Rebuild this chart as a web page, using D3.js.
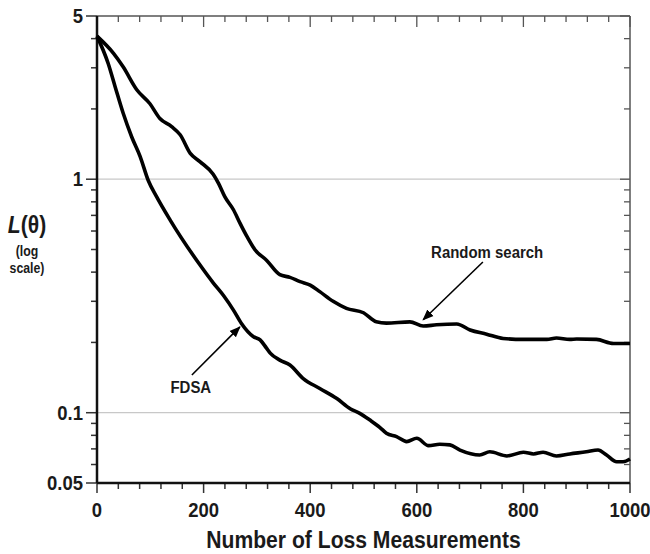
<!DOCTYPE html>
<html>
<head>
<meta charset="utf-8">
<script src="https://cdn.jsdelivr.net/npm/d3@7"></script>
<style>
  body { margin: 0; background: #fff; }
  text { font-family: "Liberation Sans", Arial, sans-serif; font-weight: bold; fill: #1a1a1a; }
</style>
</head>
<body>
<div id="chart"></div>
<script>
// data
var measurements = [0, 31, 49, 75, 99, 118, 140, 156, 175, 193, 218, 228, 240, 256, 268, 281, 296, 318, 343, 362, 381, 400, 418, 443, 468, 500, 524, 543, 587, 612, 637, 675, 700, 731, 762, 800, 844, 862, 887, 900, 937, 969, 1000];
var randomSearch = [4.10, 3.46, 3.03, 2.41, 2.11, 1.82, 1.68, 1.55, 1.29, 1.19, 1.05, 0.96, 0.84, 0.74, 0.65, 0.57, 0.50, 0.45, 0.39, 0.38, 0.364, 0.352, 0.33, 0.30, 0.28, 0.268, 0.245, 0.242, 0.245, 0.235, 0.238, 0.240, 0.226, 0.217, 0.208, 0.206, 0.206, 0.209, 0.206, 0.207, 0.206, 0.198, 0.198];

var fdsaX = [0, 21, 34, 49, 65, 81, 96, 112, 137, 193, 218, 238, 256, 271, 293, 306, 318, 325, 343, 362, 387, 418, 450, 475, 493, 512, 531, 543, 562, 581, 600, 622, 643, 662, 681, 718, 737, 769, 800, 819, 837, 862, 887, 918, 940, 956, 975, 987, 1000];
var fdsa = [4.10, 3.13, 2.49, 1.92, 1.52, 1.25, 0.99, 0.84, 0.67, 0.43, 0.36, 0.316, 0.275, 0.241, 0.212, 0.205, 0.189, 0.180, 0.168, 0.160, 0.140, 0.127, 0.115, 0.104, 0.0994, 0.093, 0.0864, 0.0817, 0.079, 0.0752, 0.0777, 0.0723, 0.0733, 0.0728, 0.0692, 0.0659, 0.068, 0.0653, 0.0677, 0.0666, 0.0677, 0.0653, 0.0666, 0.068, 0.0692, 0.0659, 0.0617, 0.0617, 0.0634];

var xTicks = [0, 200, 400, 600, 800, 1000];
var yTicks = [5, 1, 0.1, 0.05];
var yTickLabels = ["5", "1", "0.1", "0.05"];
var yMinor = [4, 3, 2, 0.9, 0.8, 0.7, 0.6, 0.5, 0.4, 0.3, 0.2, 0.09, 0.08, 0.07, 0.06];
var gridValues = [1, 0.1];

// set the dimensions and margins of the graph
var margin = {top: 16, right: 20, bottom: 71, left: 97},
    width = 650 - margin.left - margin.right,
    height = 554 - margin.top - margin.bottom;

var x = d3.scaleLinear().domain([0, 1000]).range([0, width]);
var y = d3.scaleLog().domain([0.05, 5]).range([height, 0]);

var svg = d3.select("#chart").append("svg")
    .attr("width", 650)
    .attr("height", 554)
  .append("g")
    .attr("transform", "translate(" + margin.left + "," + margin.top + ")");

// condensed bold text: squeeze a normal face horizontally
var squeeze = 0.88;
function label(parent, px, py, size, anchor, str) {
  return parent.append("text")
      .attr("transform", "translate(" + px + "," + py + ") scale(" + squeeze + ",1)")
      .attr("text-anchor", anchor)
      .style("font-size", size + "px")
      .text(str);
}

// grid lines
svg.selectAll(".grid")
    .data(gridValues)
  .enter().append("line")
    .attr("x1", 0).attr("x2", width)
    .attr("y1", function(d) { return y(d); })
    .attr("y2", function(d) { return y(d); })
    .style("stroke", "#c8c8c8")
    .style("stroke-width", 1.2);

var xAll = d3.range(0, 1001, 40);

// bottom axis ticks (outward)
svg.selectAll(".xb")
    .data(xAll)
  .enter().append("line")
    .attr("x1", function(d) { return x(d); })
    .attr("x2", function(d) { return x(d); })
    .attr("y1", height)
    .attr("y2", function(d) { return height + (d % 200 === 0 ? 10 : 6); })
    .style("stroke", "#333").style("stroke-width", 1.5);

// top axis ticks (inward)
svg.selectAll(".xt")
    .data(xAll)
  .enter().append("line")
    .attr("x1", function(d) { return x(d); })
    .attr("x2", function(d) { return x(d); })
    .attr("y1", 0)
    .attr("y2", function(d) { return d % 200 === 0 ? 11 : 6; })
    .style("stroke", "#555").style("stroke-width", 1.3);

xTicks.forEach(function(d) {
  label(svg, x(d), height + 34, 21, "middle", d);
});

// left axis ticks (outward), right axis ticks (inward)
var yAll = yTicks.concat(yMinor);
svg.selectAll(".yl")
    .data(yAll)
  .enter().append("line")
    .attr("x1", function(d) { return yTicks.indexOf(d) >= 0 ? -11 : -6; })
    .attr("x2", 0)
    .attr("y1", function(d) { return y(d); })
    .attr("y2", function(d) { return y(d); })
    .style("stroke", "#333").style("stroke-width", 1.5);

svg.selectAll(".yr")
    .data(yAll)
  .enter().append("line")
    .attr("x1", function(d) { return width - (yTicks.indexOf(d) >= 0 ? 10 : 6); })
    .attr("x2", width)
    .attr("y1", function(d) { return y(d); })
    .attr("y2", function(d) { return y(d); })
    .style("stroke", "#555").style("stroke-width", 1.3);

yTicks.forEach(function(d, i) {
  label(svg, -14, y(d) + 7, 21, "end", yTickLabels[i]);
});

// frame
svg.append("line").attr("x1", 0).attr("x2", width).attr("y1", 0).attr("y2", 0)
    .style("stroke", "#555").style("stroke-width", 1.5);
svg.append("line").attr("x1", width).attr("x2", width).attr("y1", 0).attr("y2", height)
    .style("stroke", "#555").style("stroke-width", 1.5);
svg.append("line").attr("x1", 0).attr("x2", 0).attr("y1", 0).attr("y2", height)
    .style("stroke", "#111").style("stroke-width", 2.5);
svg.append("line").attr("x1", 0).attr("x2", width).attr("y1", height).attr("y2", height)
    .style("stroke", "#111").style("stroke-width", 2.5);

// define the lines
var randomLine = d3.line()
    .curve(d3.curveMonotoneX)
    .x(function(d, i) { return x(measurements[i]); })
    .y(function(d) { return y(d); });

var fdsaLine = d3.line()
    .curve(d3.curveMonotoneX)
    .x(function(d, i) { return x(fdsaX[i]); })
    .y(function(d) { return y(d); });

svg.append("path")
    .datum(randomSearch)
    .attr("d", randomLine)
    .style("fill", "none").style("stroke", "#000").style("stroke-width", 3.6)
    .style("stroke-linejoin", "round");

svg.append("path")
    .datum(fdsa)
    .attr("d", fdsaLine)
    .style("fill", "none").style("stroke", "#000").style("stroke-width", 3.6)
    .style("stroke-linejoin", "round");

// arrow marker
svg.append("defs").append("marker")
    .attr("id", "arrow")
    .attr("viewBox", "0 0 10 10")
    .attr("refX", 9).attr("refY", 5)
    .attr("markerWidth", 7).attr("markerHeight", 7)
    .attr("orient", "auto")
  .append("path")
    .attr("d", "M0,1 L10,5 L0,9 Z")
    .style("fill", "#000");

// annotations
label(svg, x(732), y(0.46), 17, "middle", "Random search");
svg.append("line")
    .attr("x1", x(724)).attr("y1", y(0.442))
    .attr("x2", x(612)).attr("y2", y(0.25))
    .attr("marker-end", "url(#arrow)")
    .style("stroke", "#000").style("stroke-width", 1.6);

label(svg, x(176), y(0.121), 17, "middle", "FDSA");
svg.append("line")
    .attr("x1", x(178)).attr("y1", y(0.145))
    .attr("x2", x(268)).attr("y2", y(0.233))
    .attr("marker-end", "url(#arrow)")
    .style("stroke", "#000").style("stroke-width", 1.6);

// axis titles
label(svg, width / 2, height + 65, 24, "middle", "Number of Loss Measurements");

var yt = label(svg, -70, 217, 24, "middle", "");
yt.append("tspan").style("font-style", "italic").text("L");
yt.append("tspan").text("(θ)");

label(svg, -70, 240, 14, "middle", "(log");
label(svg, -70, 257, 14, "middle", "scale)");
</script>
</body>
</html>
